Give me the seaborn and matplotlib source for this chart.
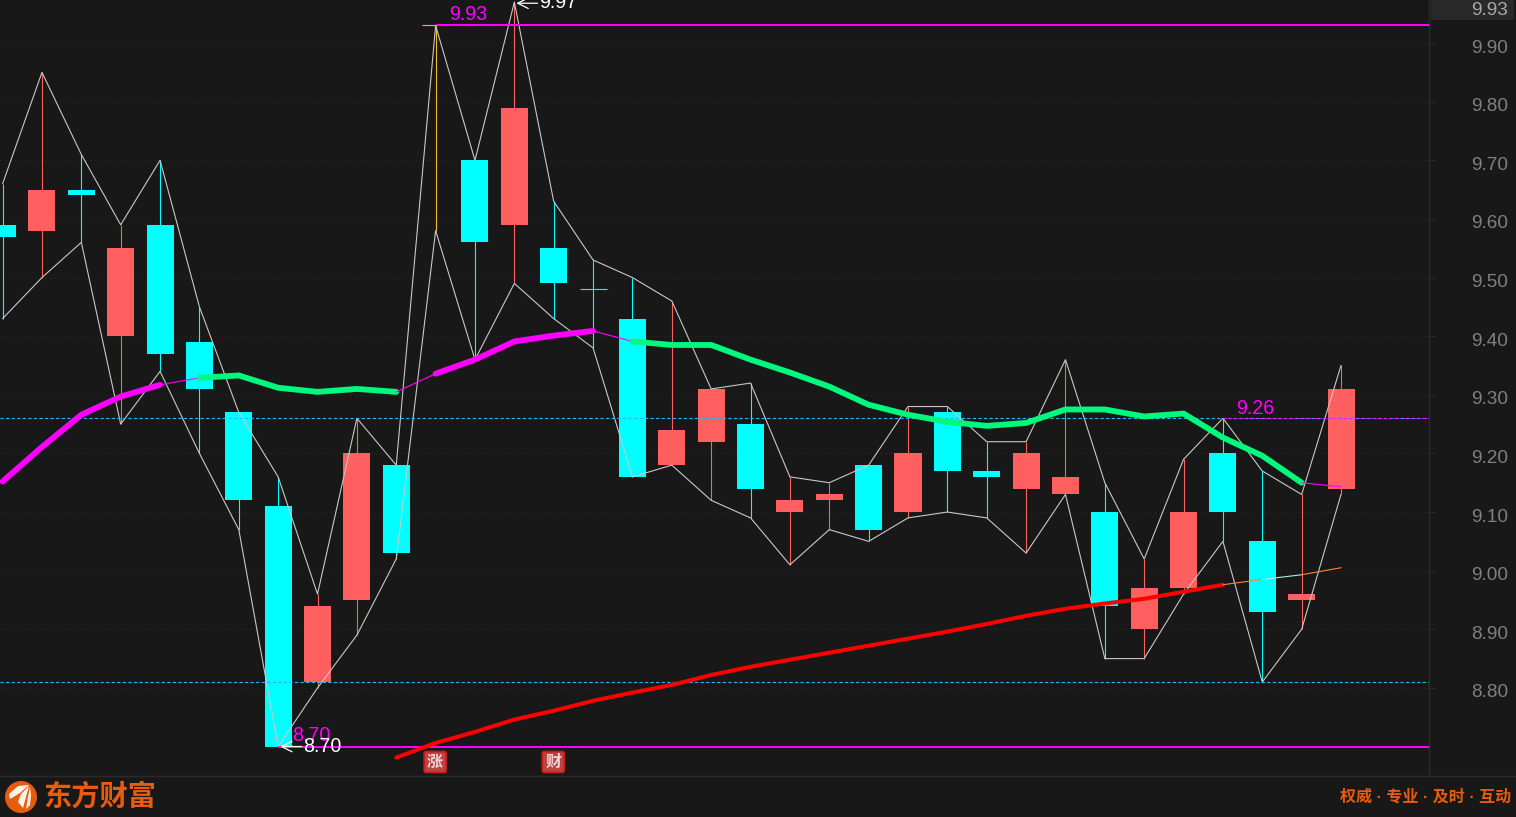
#!/usr/bin/env python
"""
Daily candlestick chart with highs/lows envelope and moving averages
"""
import numpy as np
import pandas as pd
import seaborn as sns
import matplotlib.pyplot as plt
from matplotlib.patches import Circle, FancyBboxPatch, Polygon
from matplotlib.transforms import ScaledTranslation

# candle values, one entry per session
opens = [9.59, 9.58, 9.65, 9.40, 9.59, 9.39, 9.27, 9.11, 8.81, 8.95, 9.18, 9.93,
         9.70, 9.59, 9.55, 9.48, 9.43, 9.18, 9.22, 9.25, 9.10, 9.12, 9.18, 9.10,
         9.27, 9.17, 9.14, 9.13, 9.10, 8.90, 8.97, 9.20, 9.05, 8.95, 9.14]
closes = [9.57, 9.65, 9.64, 9.55, 9.37, 9.31, 9.12, 8.70, 8.94, 9.20, 9.03, 9.93,
          9.56, 9.79, 9.49, 9.48, 9.16, 9.24, 9.31, 9.14, 9.12, 9.13, 9.07, 9.20,
          9.17, 9.16, 9.20, 9.16, 8.94, 8.97, 9.10, 9.10, 8.93, 8.96, 9.31]
highs = [9.66, 9.85, 9.71, 9.59, 9.70, 9.45, 9.27, 9.16, 8.96, 9.26, 9.18, 9.93,
         9.70, 9.97, 9.63, 9.53, 9.50, 9.46, 9.31, 9.32, 9.16, 9.15, 9.18, 9.28,
         9.28, 9.22, 9.22, 9.36, 9.15, 9.02, 9.19, 9.26, 9.17, 9.13, 9.35]
lows = [9.43, 9.50, 9.56, 9.25, 9.34, 9.20, 9.07, 8.70, 8.80, 8.89, 9.02, 9.58,
        9.36, 9.49, 9.43, 9.38, 9.16, 9.18, 9.12, 9.09, 9.01, 9.07, 9.05, 9.09,
        9.10, 9.09, 9.03, 9.13, 8.85, 8.85, 8.96, 9.05, 8.81, 8.90, 9.13]

# moving averages
ma_short = [9.152, 9.211, 9.266, 9.297, 9.317, 9.329, 9.333, 9.312, 9.305, 9.310,
            9.305, 9.336, 9.360, 9.391, 9.401, 9.409, 9.391, 9.385, 9.385, 9.360,
            9.338, 9.314, 9.283, 9.266, 9.254, 9.247, 9.252, 9.275, 9.275, 9.263,
            9.268, 9.227, 9.196, 9.150, 9.143]
ma_long = [8.681, 8.706, 8.725, 8.746, 8.761, 8.778, 8.792, 8.805, 8.822, 8.836,
           8.848, 8.860, 8.872, 8.884, 8.896, 8.909, 8.923, 8.935, 8.944, 8.952,
           8.964, 8.976, 8.985, 8.993, 9.005]
ma_long_start = 10

y_ticks = [8.80, 8.90, 9.00, 9.10, 9.20, 9.30, 9.40, 9.50, 9.60, 9.70, 9.80, 9.90]
top_price = 9.93
low_price = 8.70
mark_price = 9.26
support_price = 8.81
peak_price = 9.97

logo_text = '东方财富'
slogan_text = '权威 · 专业 · 及时 · 互动'
badges = ['涨', '财']
badge_sessions = [11, 14]

BG = '#181818'
RED = '#ff5f5f'
CYAN = '#00ffff'
MAGENTA = '#ff00ff'
GREEN = '#00f87c'
WHITE = '#c8c8c8'
FRAME = '#2a2a2a'
ORANGE = '#e85c0d'
W, H = 1516, 817

sns.set_theme(style='dark')
plt.rcParams['font.family'] = ['Liberation Sans', 'Noto Sans CJK SC', 'DejaVu Sans']
plt.rcParams['figure.facecolor'] = BG
plt.rcParams['axes.facecolor'] = BG

fig = plt.figure(figsize=(W/100, H/100), dpi=100)
ax = fig.add_axes([0, (H-776)/H, 1429/W, 776/H])
ax.set_xlim(-0.066, 36.235)
ax.set_ylim(8.6497, 9.9735)

df = pd.DataFrame({'i': np.arange(len(opens)), 'open': opens, 'close': closes,
                   'high': highs, 'low': lows, 'ma': ma_short})
df['color'] = np.where(df['close'] > df['open'], RED, CYAN)
df.loc[11, 'color'] = '#f2bd1d'  # limit-up doji
long_df = pd.DataFrame({'i': np.arange(len(ma_long)) + ma_long_start, 'ma': ma_long})


def line(data, y, color, lw, **kw):
    "One series through seaborn, kept in session order"
    sns.lineplot(data=data, x='i', y=y, color=color, linewidth=lw, sort=False,
                 estimator=None, ax=ax, legend=False, **kw)


"Grid"
ax.grid(False)
for t in y_ticks:
    ax.axhline(t, color='#2e2e2e', lw=0.72, ls=(0, (1, 4)), zorder=1)

"Candles"
ax.vlines(df['i'], df['low'], df['high'], colors=df['color'], lw=0.8, zorder=2)
ax.bar(df['i'], (df['close']-df['open']).abs(), bottom=df[['open', 'close']].min(axis=1),
       width=0.686, color=df['color'], linewidth=0, antialiased=False, zorder=3)
flat = df[df['open'] == df['close']]
ax.hlines(flat['open'], flat['i']-0.343, flat['i']+0.343, colors=flat['color'], lw=0.8, zorder=3)

"High and low envelopes"
line(df, 'high', WHITE, 0.8, zorder=4)
line(df, 'low', WHITE, 0.8, zorder=4)

"Reference levels"
ax.axhline(mark_price, color='#22b8ff', lw=0.8, ls=(0, (3, 2)), zorder=5)
ax.axhline(support_price, color='#22b8ff', lw=0.8, ls=(0, (3, 2)), zorder=5)
ax.hlines(top_price, 11, 36.3, colors=MAGENTA, lw=1.3, antialiased=False, zorder=5)
ax.hlines(low_price, 7, 36.3, colors=MAGENTA, lw=1.3, antialiased=False, zorder=5)
ax.hlines(mark_price, 31, 36.3, colors=MAGENTA, lw=0.6, ls=(0, (4, 2)), zorder=6)

"Short moving average, thin where it changes colour"
for a, b, c, lw in [(0, 4, MAGENTA, 4.2), (4, 5, MAGENTA, 0.8), (5, 10, GREEN, 4.2),
                    (10, 11, MAGENTA, 0.8), (11, 15, MAGENTA, 4.2), (15, 16, MAGENTA, 0.8),
                    (16, 33, GREEN, 4.2), (33, 34, MAGENTA, 0.8)]:
    line(df.iloc[a:b+1], 'ma', c, lw, zorder=6, solid_capstyle='round')

"Long moving average"
line(long_df.iloc[:22], 'ma', '#ff0000', 2.9, zorder=6, solid_capstyle='round')
for a, b, c in [(21, 22, '#ff8040'), (22, 23, '#a8f0e8'), (23, 24, '#ff8040')]:
    line(long_df.iloc[a:b+1], 'ma', c, 0.8, zorder=6)

"Price labels"
ax.text(11.825, top_price+0.002, f'{top_price:.2f}', color=MAGENTA, fontsize=14.2, ha='center', va='bottom', zorder=7)
ax.text(31.825, mark_price, f'{mark_price:.2f}', color=MAGENTA, fontsize=14.2, ha='center', va='bottom', zorder=7)
ax.text(7.345, low_price+0.003, f'{low_price:.2f}', color=MAGENTA, fontsize=14.2, ha='left', va='bottom', zorder=7)
ax.text(7.63, low_price, f'{low_price:.2f}', color='white', fontsize=14.2, ha='left', va='center', zorder=8)
ax.text(13.62, peak_price, f'{peak_price:.2f}', color='white', fontsize=14.2, ha='left', va='center', zorder=8)
for xy, xytext in [((7.05, low_price), (7.6, low_price)), ((13.05, peak_price-0.002), (13.59, peak_price-0.002))]:
    ax.annotate('', xy=xy, xytext=xytext, zorder=8,
                arrowprops=dict(arrowstyle='->', color='white', lw=0.9, shrinkA=0, shrinkB=0, mutation_scale=19))

"Axis and frame"
ax.yaxis.tick_right()
ax.set_yticks(y_ticks)
ax.set_yticklabels([f'{t:.2f}' for t in y_ticks], color='#808080', fontsize=13.7)
ax.tick_params(axis='y', length=4.3, width=0.7, color='#2e2e2e', pad=26, right=True)
shift = ScaledTranslation(0, -3/100, fig.dpi_scale_trans)
for lab in ax.get_yticklabels():
    lab.set_transform(lab.get_transform() + shift)
ax.set_xticks([])
ax.set(xlabel='', ylabel='')
for side in ['top', 'left']:
    ax.spines[side].set_visible(False)
for side in ['right', 'bottom']:
    ax.spines[side].set_visible(True)
    ax.spines[side].set_color(FRAME)
    ax.spines[side].set_linewidth(1)

"Overlay in pixel coordinates: current price box, footer, badges"
ov = fig.add_axes([0, 0, 1, 1], facecolor='none')
ov.set_xlim(0, W)
ov.set_ylim(H, 0)
ov.axis('off')

ov.add_patch(FancyBboxPatch((1431, -6), 83, 26, boxstyle='round,pad=0,rounding_size=2',
                            fc='#292929', ec='none'))
ov.text(1508, 10, f'{top_price:.2f}', color='#a8a8a8', fontsize=13.7, ha='right', va='center')

ov.plot([0, W], [776, 776], color=FRAME, lw=1)
ov.add_patch(Circle((21, 797), 16, fc=ORANGE, ec='none'))
for pts in [[(29, 785), (18, 786), (9, 794), (10, 799), (20, 793)],
            [(29, 786), (21, 794), (18, 802), (23, 808), (26, 797)],
            [(30, 787), (28, 797), (26, 809), (30, 805), (31, 795)]]:
    ov.add_patch(Polygon(pts, closed=True, fc='#fff4ec', ec='none'))
ov.text(43, 797, logo_text, color=ORANGE, fontsize=20.3, fontweight='bold', ha='left', va='center',
        family=['Noto Sans CJK SC', 'DejaVu Sans'])
ov.text(1511, 797, slogan_text, color=ORANGE, fontsize=11.5, fontweight='bold', ha='right', va='center',
        family=['Liberation Sans', 'Noto Sans CJK SC'])

# badges sit under their session
for label, s in zip(badges, badge_sessions):
    cx = 2.1 + 39.37*s
    ov.add_patch(FancyBboxPatch((cx-11, 751.5), 22, 21, boxstyle='round,pad=0,rounding_size=2',
                                fc='#b84444', ec='#d01818', lw=1.2))
    ov.text(cx, 762, label, color='#f0d4d4', fontsize=11.5, fontweight='bold', ha='center', va='center',
            family=['Noto Sans CJK SC', 'DejaVu Sans'])

fig.savefig('out.png', dpi=100, facecolor=BG)
